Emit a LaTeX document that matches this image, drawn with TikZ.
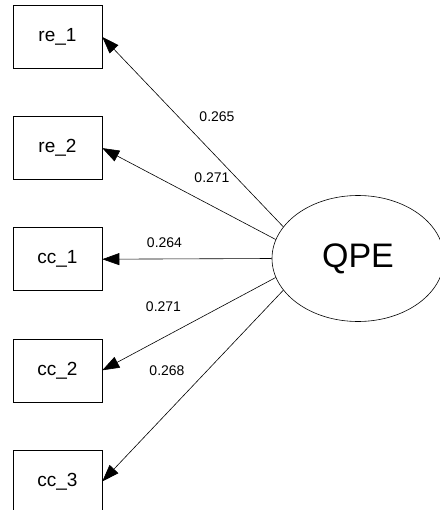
\documentclass[tikz,border=0pt]{standalone}
\usepackage{fontspec}
\setmainfont{Liberation Sans}
\usetikzlibrary{positioning,shapes.geometric,arrows.meta}

\begin{document}
\begin{tikzpicture}[x=1pt,y=1pt,
	box/.style={draw,line width=0.6pt,minimum width=89pt,minimum height=63pt,inner sep=0pt,font=\fontsize{19}{22}\selectfont},
	latent/.style={draw,ellipse,line width=0.6pt,minimum width=172pt,minimum height=126pt,inner sep=0pt,font=\fontsize{34}{38}\selectfont},
	lbl/.style={inner sep=0pt,font=\fontsize{14}{16}\selectfont},
	arr/.style={line width=0.6pt,-{Triangle[length=17pt,width=12pt]}}]
	\useasboundingbox (0,0) rectangle (439,-510);
	% indicators
	\node[box] (re1) at (57.5,-37) {re\_1};
	\node[box,below=47.5pt of re1] (re2) {re\_2};
	\node[box,below=47.5pt of re2] (cc1) {cc\_1};
	\node[box,below=47.5pt of cc1] (cc2) {cc\_2};
	\node[box,below=47.5pt of cc2] (cc3) {cc\_3};
	% factor
	\node[latent] (qpe) at (358,-258.5) {QPE};
	% loadings
	\draw[arr] (qpe.157) -- (re1.east);
	\draw[arr] (qpe.167) -- (re2.east);
	\draw[arr] (qpe.180) -- (cc1.east);
	\draw[arr] (qpe.193) -- (cc2.east);
	\draw[arr] (qpe.203) -- (cc3.east);
	\node[lbl] (l1) at (217,-117) {0.265};
	\node[lbl] (l2) at (212,-178) {0.271};
	\node[lbl] (l3) at (164.5,-243) {0.264};
	\node[lbl] (l4) at (163.5,-307) {0.271};
	\node[lbl] (l5) at (167,-371) {0.268};
\end{tikzpicture}
\end{document}
